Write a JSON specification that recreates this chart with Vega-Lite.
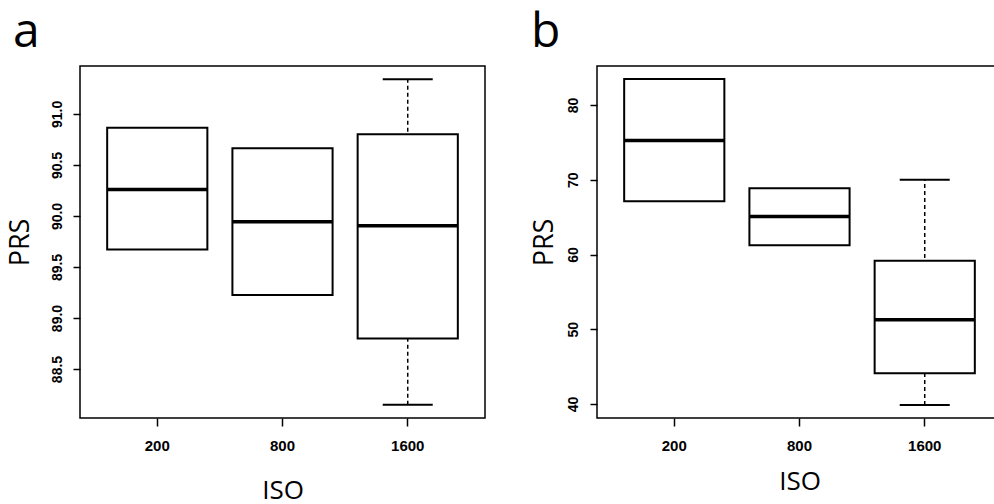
{
  "$schema": "https://vega.github.io/schema/vega-lite/v6.json",
  "background": "white",
  "padding": {"left": 5, "top": 8, "right": 0, "bottom": 0},
  "bounds": "flush",
  "spacing": 112,
  "datasets": {
    "a": [
      {"iso": "200", "q1": 89.672, "q3": 90.866, "median": 90.26, "lower": null, "upper": null},
      {"iso": "800", "q1": 89.226, "q3": 90.664, "median": 89.943, "lower": null, "upper": null},
      {"iso": "1600", "q1": 88.80, "q3": 90.80, "median": 89.904, "lower": 88.15, "upper": 91.34}
    ],
    "b": [
      {"iso": "200", "q1": 67.14, "q3": 83.48, "median": 75.27, "lower": null, "upper": null},
      {"iso": "800", "q1": 61.25, "q3": 68.87, "median": 65.08, "lower": null, "upper": null},
      {"iso": "1600", "q1": 44.1, "q3": 59.16, "median": 51.26, "lower": 39.87, "upper": 70.0}
    ]
  },
  "config": {
    "view": {"stroke": "black", "strokeWidth": 1.5},
    "axis": {
      "grid": false, "domain": false, "tickColor": "black", "tickWidth": 1.5, "tickSize": 7,
      "labelColor": "black", "labelFont": "Liberation Sans", "labelFontWeight": "bold",
      "titleFont": "Open Sans", "titleFontWeight": "normal", "titleColor": "black"
    },
    "title": {"font": "Open Sans", "fontSize": 48, "fontWeight": "normal", "color": "black", "anchor": "start", "frame": "group", "baseline": "alphabetic", "offset": 9, "dx": -67}
  },
  "resolve": {"scale": {"x": "independent", "y": "independent"}},
  "hconcat": [
    {
      "width": 405,
      "height": 352,
      "title": {"text": "a"},
      "data": {"name": "a"},
      "encoding": {
        "x": {
          "field": "iso", "type": "nominal", "sort": ["200", "800", "1600"],
          "scale": {"domain": ["200", "800", "1600"], "paddingInner": 0, "paddingOuter": 0.117},
          "axis": {"title": "ISO", "labelAngle": 0, "labelFontSize": 15, "labelPadding": 12, "tickSize": 8, "titleFontSize": 26, "titlePadding": 24}
        }
      },
      "layer": [
        {
          "transform": [{"filter": "isValid(datum.lower)"}],
          "mark": {"type": "rule", "strokeDash": [4, 3], "strokeWidth": 1.5, "color": "black"},
          "encoding": {
            "y": {
              "field": "lower", "type": "quantitative", "title": "PRS",
              "scale": {"domain": [88.02, 91.47], "nice": false, "zero": false},
              "axis": {"values": [88.5, 89, 89.5, 90, 90.5, 91], "format": ".1f", "labelAngle": -90, "labelAlign": "center", "labelBaseline": "alphabetic", "labelFontSize": 14, "labelPadding": 12, "titleFontSize": 27, "titlePadding": 16}
            },
            "y2": {"field": "upper"}
          }
        },
        {
          "transform": [{"filter": "isValid(datum.lower)"}],
          "mark": {"type": "tick", "size": 50, "thickness": 2, "color": "black", "opacity": 1},
          "encoding": {"y": {"field": "lower", "type": "quantitative", "title": "PRS"}}
        },
        {
          "transform": [{"filter": "isValid(datum.upper)"}],
          "mark": {"type": "tick", "size": 50, "thickness": 2, "color": "black", "opacity": 1},
          "encoding": {"y": {"field": "upper", "type": "quantitative", "title": "PRS"}}
        },
        {
          "mark": {"type": "bar", "fill": "white", "stroke": "black", "strokeWidth": 2, "width": {"band": 0.8}},
          "encoding": {"y": {"field": "q1", "type": "quantitative", "title": "PRS"}, "y2": {"field": "q3"}}
        },
        {
          "mark": {"type": "tick", "size": 100, "thickness": 3.5, "color": "black", "opacity": 1},
          "encoding": {"y": {"field": "median", "type": "quantitative", "title": "PRS"}}
        }
      ]
    },
    {
      "width": 405,
      "height": 352,
      "title": {"text": "b", "dx": -66},
      "data": {"name": "b"},
      "encoding": {
        "x": {
          "field": "iso", "type": "nominal", "sort": ["200", "800", "1600"],
          "scale": {"domain": ["200", "800", "1600"], "paddingInner": 0, "paddingOuter": 0.117},
          "axis": {"title": "ISO", "labelAngle": 0, "labelFontSize": 15, "labelPadding": 12, "tickSize": 8, "titleFontSize": 26, "titlePadding": 15}
        }
      },
      "layer": [
        {
          "transform": [{"filter": "isValid(datum.lower)"}],
          "mark": {"type": "rule", "strokeDash": [4, 3], "strokeWidth": 1.5, "color": "black"},
          "encoding": {
            "y": {
              "field": "lower", "type": "quantitative", "title": "PRS",
              "scale": {"domain": [38.13, 85.22], "nice": false, "zero": false},
              "axis": {"values": [40, 50, 60, 70, 80], "format": "d", "labelAngle": -90, "labelAlign": "center", "labelBaseline": "alphabetic", "labelFontSize": 14, "labelPadding": 13, "titleFontSize": 27, "titlePadding": 8}
            },
            "y2": {"field": "upper"}
          }
        },
        {
          "transform": [{"filter": "isValid(datum.lower)"}],
          "mark": {"type": "tick", "size": 50, "thickness": 2, "color": "black", "opacity": 1},
          "encoding": {"y": {"field": "lower", "type": "quantitative", "title": "PRS"}}
        },
        {
          "transform": [{"filter": "isValid(datum.upper)"}],
          "mark": {"type": "tick", "size": 50, "thickness": 2, "color": "black", "opacity": 1},
          "encoding": {"y": {"field": "upper", "type": "quantitative", "title": "PRS"}}
        },
        {
          "mark": {"type": "bar", "fill": "white", "stroke": "black", "strokeWidth": 2, "width": {"band": 0.8}},
          "encoding": {"y": {"field": "q1", "type": "quantitative", "title": "PRS"}, "y2": {"field": "q3"}}
        },
        {
          "mark": {"type": "tick", "size": 100, "thickness": 3.5, "color": "black", "opacity": 1},
          "encoding": {"y": {"field": "median", "type": "quantitative", "title": "PRS"}}
        }
      ]
    }
  ]
}
